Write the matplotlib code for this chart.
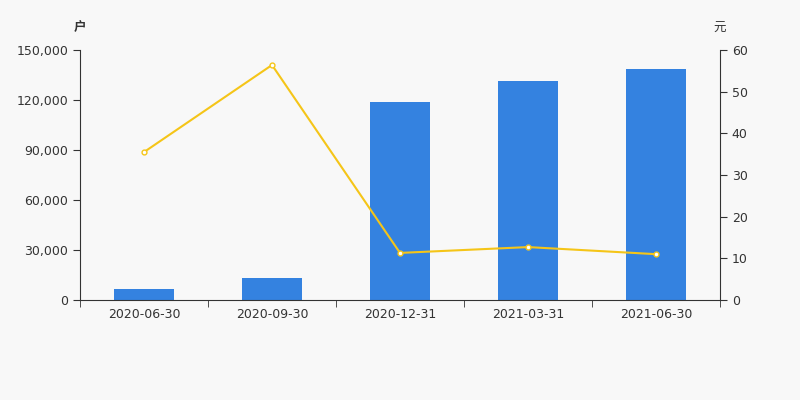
import matplotlib.pyplot as plt
import numpy as np

plt.rcParams['font.family'] = ['DejaVu Sans', 'Noto Sans CJK SC']

dates = ['2020-06-30', '2020-09-30', '2020-12-31', '2021-03-31', '2021-06-30']
holders = [6600, 13200, 118800, 131400, 138600]
price = [35.5, 56.4, 11.3, 12.7, 11.0]

bg = '#f8f8f8'
fig = plt.figure(figsize=(8, 4), dpi=100, facecolor=bg)
ax = fig.add_axes([0.1, 0.25, 0.8, 0.625], facecolor=bg)
x = np.arange(len(dates))
ax.bar(x, holders, width=0.47, color='#3482e0', zorder=2)
ax.set_xlim(-0.5, len(dates) - 0.5)
ax.set_ylim(0, 150000)
ax.set_yticks(np.arange(0, 150001, 30000))
ax.set_yticklabels(['{:,}'.format(v) for v in range(0, 150001, 30000)])
ax.set_xticks(x)
ax.set_xticklabels(dates)
ax.set_xticks(np.arange(-0.5, len(dates), 1), minor=True)
ax.tick_params(axis='x', which='major', length=0, pad=6)
ax.tick_params(axis='x', which='minor', length=5, color='#333333')
ax.tick_params(axis='y', length=5, color='#333333')
ax.tick_params(labelsize=9, labelcolor='#333333')
for s in ['top', 'right']:
    ax.spines[s].set_visible(False)
for s in ['left', 'bottom']:
    ax.spines[s].set_color('#333333')

ax2 = ax.twinx()
ax2.plot(x, price, color='#f5c518', linewidth=1.5, marker='o', markersize=3.5,
         markerfacecolor='white', markeredgecolor='#f5c518', markeredgewidth=1, zorder=3)
ax2.set_ylim(0, 60)
ax2.set_yticks(np.arange(0, 61, 10))
ax2.tick_params(axis='y', length=5, color='#333333', labelsize=9, labelcolor='#333333')
for s in ['top', 'left', 'bottom']:
    ax2.spines[s].set_visible(False)
ax2.spines['right'].set_color('#333333')

fig.text(0.1, 0.93, '户', ha='center', va='center', fontsize=9, color='#333333',
         fontweight='bold', family=['Noto Sans CJK SC'])
fig.text(0.9, 0.93, '元', ha='center', va='center', fontsize=9, color='#333333',
         family=['Noto Sans CJK SC'])

fig.savefig('out.png', dpi=100, facecolor=bg)
